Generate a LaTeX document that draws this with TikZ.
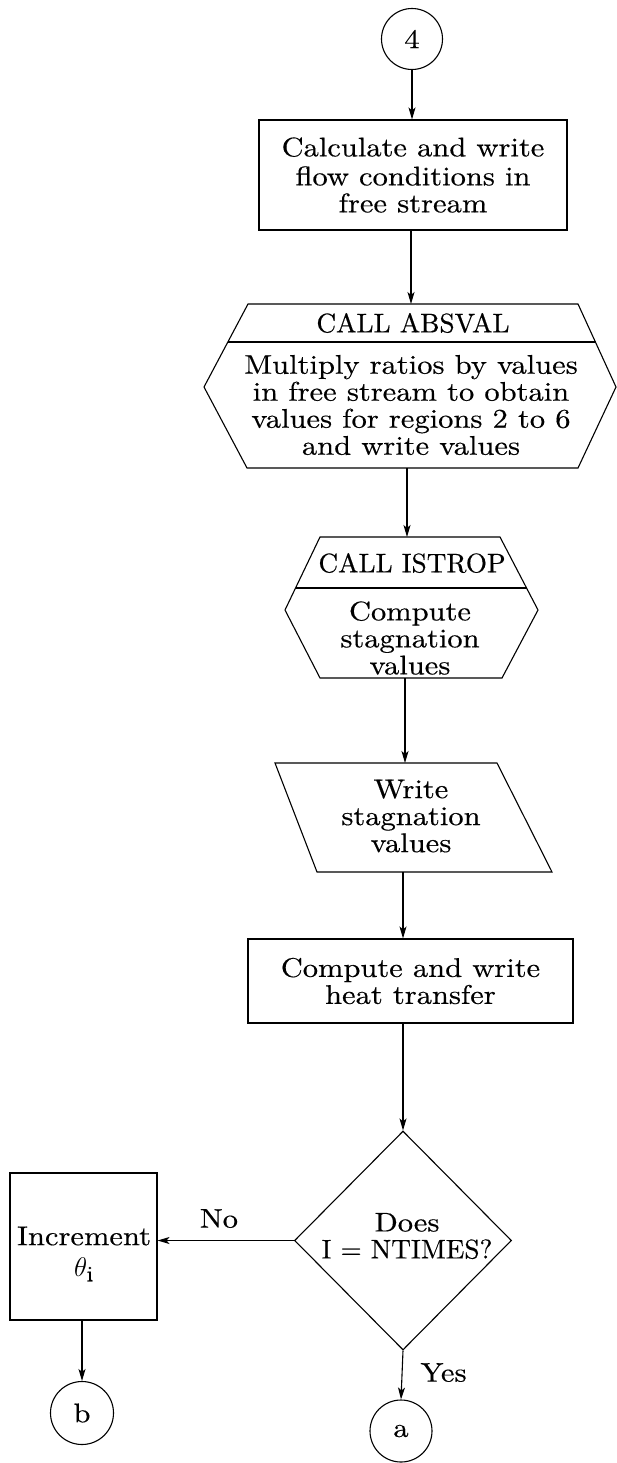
\documentclass[tikz,border=0pt]{standalone}
\usepackage{fix-cm}
\usepackage{fontspec}
\usetikzlibrary{arrows.meta,shapes.geometric}
\setmainfont{lmroman10-regular.otf}[FakeStretch=1.13, FakeBold=0.4]
\newfontfamily\capsfont{lmroman10-regular.otf}[FakeStretch=1.01, FakeBold=0.4]

\begin{document}
\begin{tikzpicture}[x=1pt, y=-1pt, line width=1.1pt,
  lbl/.style={font=\fontsize{27}{27}\selectfont, align=center, inner sep=0pt},
  caps/.style={font=\fontsize{27}{27}\selectfont\capsfont, align=center, inner sep=0pt},
  box/.style={draw, rectangle, lbl},
  conn/.style={draw, circle, lbl},
  flow/.style={-{Stealth[length=12pt, width=7pt, inset=3pt]}}]
\useasboundingbox (0,0) rectangle (617,1463);

% entry connector
\node[conn, minimum size=61pt] (c4) at (412,39) {4};

% free-stream conditions
\node[box, minimum width=308pt, minimum height=110pt] (free) at (413,175)
  {Calculate and write\\[2pt]flow conditions in\\free stream};

% ABSVAL subroutine block
\draw (248,304) -- (578,304) -- (616,387) -- (578,468) -- (247,468) -- (204,387) -- cycle;
\draw (228,342) -- (596,342);
\node[caps] (absCall) at (413,323) {CALL ABSVAL};
\node[lbl] (absBody) at (411,405)
  {Multiply ratios by values\\in free stream to obtain\\values for regions 2 to 6\\and write values};
\coordinate (absTop) at (411,304);
\coordinate (absBot) at (407,468);

% ISTROP subroutine block
\draw (320,537) -- (500,537) -- (538,610) -- (502,678) -- (320,678) -- (285,610) -- cycle;
\draw (295.5,588) -- (526.5,588);
\node[caps] (isCall) at (412,563) {CALL ISTROP};
\node[lbl] (isBody) at (410,638) {Compute\\stagnation\\values};
\coordinate (isTop) at (407,537);
\coordinate (isBot) at (405,678);

% output block
\draw (275,763) -- (497,763) -- (552,872) -- (317,872) -- cycle;
\node[lbl] (wr) at (411,816) {Write\\stagnation\\values};
\coordinate (wrTop) at (405,763);
\coordinate (wrBot) at (403,872);

% heat transfer
\node[box, minimum width=325pt, minimum height=84pt] (heat) at (410.5,981)
  {Compute and write\\heat transfer};

% loop test
\node[draw, diamond, minimum width=217pt, minimum height=219pt, inner sep=0pt] (test) at (403,1240.5) {};
\node[lbl] (testTxt) at (407,1236) {Does\\{\capsfont I = NTIMES?}};

% increment angle
\node[draw, rectangle, minimum width=147pt, minimum height=147pt] (inc) at (83.5,1246.5) {};
\node[lbl] (incTxt) at (84,1254)
  {Increment\\[4pt]$\theta_{\mbox{\fontsize{22}{22}\selectfont i}}$};

% exit connectors
\node[conn, minimum size=63pt] (cb) at (82,1413) {b};
\node[conn, minimum size=62pt] (ca) at (401,1431) {a};

% connectors
\draw[flow] (c4.south) -- (c4.south |- free.north);
\draw[flow] (free.south -| absTop) -- (absTop);
\draw[flow] (absBot) -- (isTop);
\draw[flow] (isBot) -- (wrTop);
\draw[flow] (wrBot) -- (heat.north -| wrBot);
\draw[flow] (heat.south -| test.north) -- (test.north);
\draw[flow] (test.west) -- (test.west -| inc.east)
  node[lbl, pos=0.55, above=12pt] (no) {No};
\draw[flow] (inc.south -| cb) -- (cb.north);
\draw[flow] (test.south) -- (ca.north)
  node[lbl, pos=0.45, right=18pt] (yes) {Yes};
\end{tikzpicture}
\end{document}
